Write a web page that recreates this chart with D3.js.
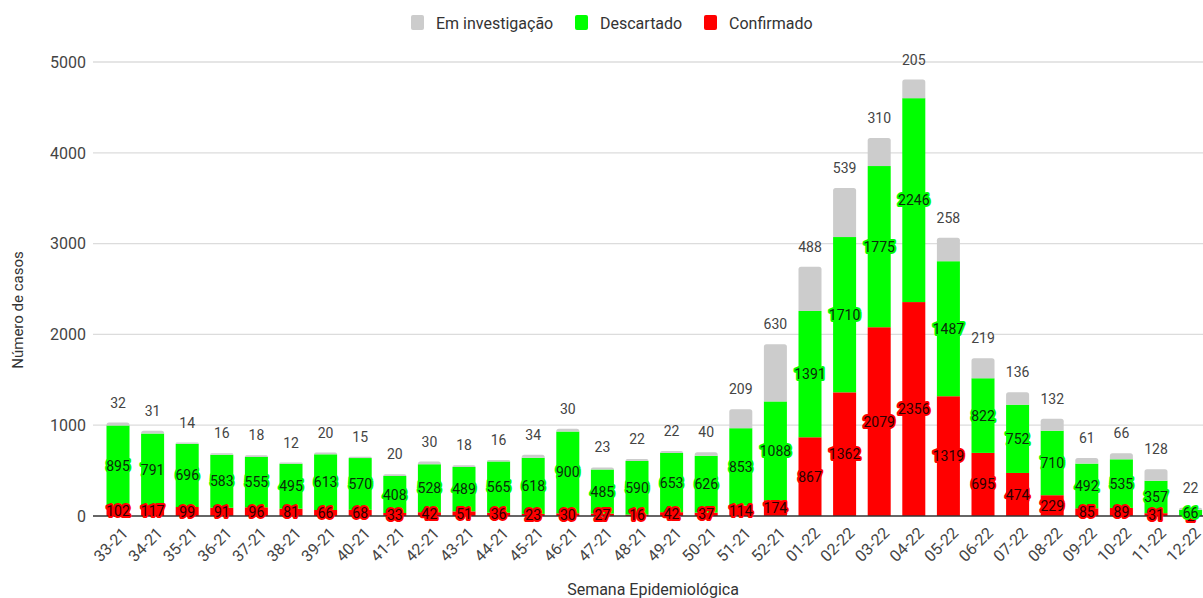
<!DOCTYPE html>
<html><head><meta charset="utf-8">
<script src="https://cdn.jsdelivr.net/npm/d3@7"></script>
<style>body{margin:0;background:#fff}svg{display:block;font-family:Roboto,Arial,sans-serif}</style>
</head><body>
<svg id="c" width="1203" height="598"></svg>
<script>
const weeks = ["33-21","34-21","35-21","36-21","37-21","38-21","39-21","40-21","41-21","42-21","43-21","44-21","45-21","46-21","47-21","48-21","49-21","50-21","51-21","52-21","01-22","02-22","03-22","04-22","05-22","06-22","07-22","08-22","09-22","10-22","11-22","12-22"];
const confirmado = [102,117,99,91,96,81,66,68,33,42,51,36,23,30,27,16,42,37,114,174,867,1362,2079,2356,1319,695,474,229,85,89,31,2];
const descartado = [895,791,696,583,555,495,613,570,408,528,489,565,618,900,485,590,653,626,853,1088,1391,1710,1775,2246,1487,822,752,710,492,535,357,66];
const investigacao = [32,31,14,16,18,12,20,15,20,30,18,16,34,30,23,22,22,40,209,630,488,539,310,205,258,219,136,132,61,66,128,22];
const yTicks = [0,1000,2000,3000,4000,5000];
const seriesNames = ["Em investigação","Descartado","Confirmado"];
const colors = {"Em investigação":"#cccccc","Descartado":"#00ff00","Confirmado":"#ff0000"};

const svg = d3.select("#c");
const x = d3.scaleBand().domain(weeks).range([100.7, 1207.9]).paddingInner(0.335).paddingOuter(0.1675);
const y = d3.scaleLinear().domain([0,5000]).range([516,62]);

// gridlines
svg.append("g").selectAll("line").data(yTicks.filter(d=>d>0)).join("line")
  .attr("x1",93).attr("x2",1203).attr("y1",d=>y(d)).attr("y2",d=>y(d))
  .attr("stroke","#dcdcdc").attr("stroke-width",1.3);
// y tick labels
svg.append("g").selectAll("text").data(yTicks).join("text")
  .attr("x",86).attr("y",d=>y(d)).attr("dy","0.36em").attr("text-anchor","end")
  .attr("font-size",16).attr("fill","#444").text(d=>d);

const rows = weeks.map((w,i)=>({w, c:confirmado[i], d:descartado[i], e:investigacao[i]}));
const bw = x.bandwidth();
const g = svg.append("g");
g.selectAll("rect.c").data(rows).join("rect").attr("class","c")
  .attr("x",r=>x(r.w)).attr("width",bw).attr("y",r=>y(r.c)).attr("height",r=>y(0)-y(r.c)).attr("fill",colors["Confirmado"]);
g.selectAll("rect.d").data(rows).join("rect").attr("class","d")
  .attr("x",r=>x(r.w)).attr("width",bw).attr("y",r=>y(r.c+r.d)).attr("height",r=>y(r.c)-y(r.c+r.d)).attr("fill",colors["Descartado"]);
g.selectAll("path.e").data(rows).join("path").attr("class","e")
  .attr("fill",colors["Em investigação"])
  .attr("d",r=>{
    const x0=x(r.w), x1=x0+bw, yt=y(r.c+r.d+r.e), yb=y(r.c+r.d);
    const rad=Math.min(2.5,(yb-yt));
    return `M${x0},${yb}L${x0},${yt+rad}Q${x0},${yt} ${x0+rad},${yt}L${x1-rad},${yt}Q${x1},${yt} ${x1},${yt+rad}L${x1},${yb}Z`;
  });

svg.append("line").attr("x1",93).attr("x2",1203).attr("y1",y(0)).attr("y2",y(0)).attr("stroke","#333").attr("stroke-width",1.3);

const lab = svg.append("g").attr("font-size",14).attr("text-anchor","middle");
lab.selectAll("text.lc").data(rows).join("text").attr("class","lc")
  .attr("x",r=>x(r.w)+bw/2).attr("y",r=>y(r.c/2)).attr("dy","0.36em")
  .attr("fill","#2a0000").attr("stroke","#ff0000").attr("stroke-width",4).attr("stroke-linejoin","round")
  .attr("paint-order","stroke").text(r=>r.c);
lab.selectAll("text.ld").data(rows).join("text").attr("class","ld")
  .attr("x",r=>x(r.w)+bw/2).attr("y",r=>y(r.c+r.d/2)).attr("dy","0.36em")
  .attr("fill","#0a2a0a").attr("stroke","#00ff00").attr("stroke-width",4).attr("stroke-linejoin","round")
  .attr("paint-order","stroke").text(r=>r.d);
lab.selectAll("text.le").data(rows).join("text").attr("class","le")
  .attr("x",r=>x(r.w)+bw/2).attr("y",r=>y(r.c+r.d+r.e)-15)
  .attr("fill","#444").text(r=>r.e);

svg.append("g").selectAll("text").data(weeks).join("text")
  .attr("transform",w=>`translate(${x(w)+bw/2+7},${530}) rotate(-45)`)
  .attr("text-anchor","end").attr("font-size",16).attr("fill","#444").attr("dy","0.36em").text(w=>w);

svg.append("text").attr("x",653).attr("y",595).attr("text-anchor","middle").attr("font-size",16).attr("fill","#333").text("Semana Epidemiológica");
svg.append("text").attr("transform","translate(23,310) rotate(-90)").attr("text-anchor","middle").attr("font-size",15).attr("fill","#333").text("Número de casos");

const legendX = [411,575,704];
const lg = svg.append("g");
seriesNames.forEach((s,i)=>{
  lg.append("rect").attr("x",legendX[i]).attr("y",15).attr("width",13).attr("height",15).attr("rx",2).attr("fill",colors[s]);
  lg.append("text").attr("x",legendX[i]+25).attr("y",23).attr("dy","0.36em").attr("font-size",16).attr("fill","#333").text(s);
});
</script>
</body></html>
